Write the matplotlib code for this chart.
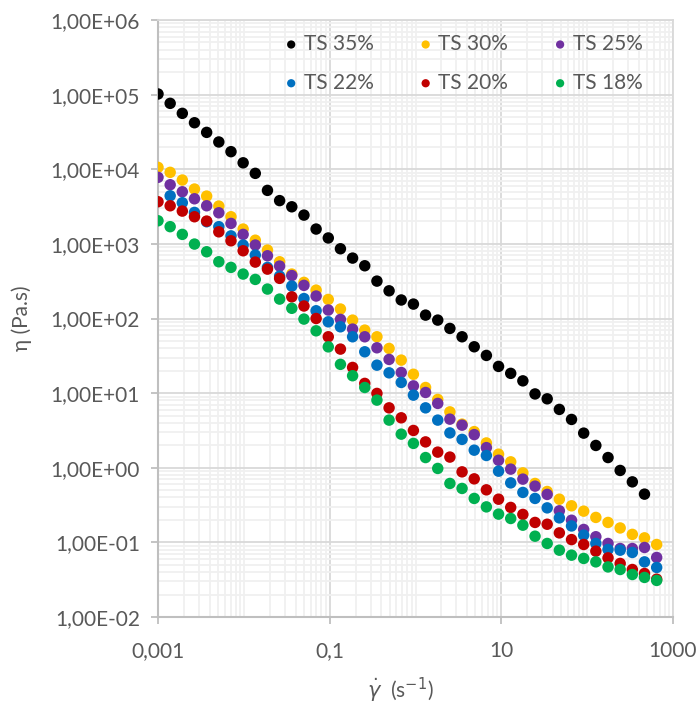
import matplotlib
matplotlib.use('Agg')
import matplotlib.pyplot as plt
from matplotlib.ticker import FixedLocator, FuncFormatter, LogLocator, NullFormatter

plt.rcParams['font.family'] = ['Lato', 'DejaVu Sans']
plt.rcParams['mathtext.fontset'] = 'dejavusans'

# shear rates of the log sweep (s-1)
shear_rate = [0.001, 0.001386, 0.00192, 0.002661, 0.003688, 0.005111, 0.007084,
              0.009816, 0.0136, 0.01885, 0.02612, 0.0362, 0.05017, 0.06953,
              0.09634, 0.1335, 0.185, 0.2564, 0.3553, 0.4924, 0.6823, 0.9456,
              1.31, 1.816, 2.516, 3.487, 4.832, 6.697, 9.281, 12.86, 17.82,
              24.7, 34.22, 47.43, 65.73, 91.09, 126.2, 175.0, 242.4, 336.0,
              465.6, 645.2]

# viscosity (Pa.s) per total solids content
ts35 = [1.02e5, 7.64e4, 5.61e4, 4.20e4, 3.12e4, 2.32e4, 1.72e4, 1.22e4, 8.81e3,
        5.21e3, 3.80e3, 3.14e3, 2.43e3, 1.58e3, 1.20e3, 860, 645, 509, 317, 235,
        177, 156, 111, 95.2, 73.6, 56.9, 41.8, 32.0, 22.8, 18.4, 14.6, 9.75,
        8.39, 6.05, 4.44, 2.91, 1.99, 1.37, 0.92, 0.647, 0.443]
ts30 = [1.06e4, 9.09e3, 7.17e3, 5.43e3, 4.37e3, 3.21e3, 2.31e3, 1.58e3, 1.12e3,
        826, 576, 394, 305, 240, 180, 134, 95.2, 69.9, 56.9, 39.7, 27.7, 17.9,
        11.9, 8.23, 5.61, 3.84, 3.05, 2.15, 1.52, 1.20, 0.854, 0.616, 0.481,
        0.379, 0.309, 0.262, 0.216, 0.185, 0.156, 0.128, 0.115, 0.0937]
ts25 = [7.79e3, 6.20e3, 4.99e3, 4.02e3, 3.24e3, 2.61e3, 1.88e3, 1.34e3, 964,
        693, 504, 376, 278, 200, 130, 97.3, 72.1, 56.9, 40.5, 28.3, 18.9, 12.5,
        10.2, 7.28, 4.48, 3.72, 2.78, 1.86, 1.26, 0.958, 0.704, 0.567, 0.439,
        0.265, 0.198, 0.149, 0.119, 0.0967, 0.0828, 0.0828, 0.0854, 0.0628]
ts22 = [4.41e3, 3.56e3, 2.64e3, 1.98e3, 1.70e3, 1.28e3, 964, 708, 484, 370,
        272, 185, 127, 90.3, 77.4, 56.9, 35.8, 23.7, 18.7, 13.9, 9.40, 6.35,
        4.35, 2.93, 2.40, 1.72, 1.46, 0.900, 0.627, 0.467, 0.388, 0.290, 0.213,
        0.166, 0.125, 0.0967, 0.0803, 0.0786, 0.0732, 0.0548, 0.0461]
ts20 = [3.67e3, 3.24e3, 2.75e3, 2.31e3, 2.02e3, 1.45e3, 1.10e3, 808, 570, 459,
        345, 195, 147, 100, 56.9, 38.9, 22.1, 13.5, 9.91, 6.35, 4.67, 3.16,
        2.22, 1.62, 1.39, 0.881, 0.710, 0.506, 0.379, 0.294, 0.237, 0.185,
        0.175, 0.134, 0.109, 0.0937, 0.0762, 0.0620, 0.0522, 0.0433, 0.0383,
        0.0321]
ts18 = [2.04e3, 1.70e3, 1.34e3, 994, 784, 576, 484, 394, 334, 248, 182, 137,
        98.2, 68.4, 41.7, 24.3, 17.1, 11.9, 8.06, 4.35, 2.82, 2.12, 1.37, 0.979,
        0.616, 0.528, 0.388, 0.299, 0.239, 0.209, 0.170, 0.121, 0.0967, 0.0786,
        0.0674, 0.0609, 0.0548, 0.0469, 0.0433, 0.0371, 0.0339, 0.0309]

series = [
    ('TS 35%', shear_rate[:len(ts35)], ts35, '#000000'),
    ('TS 30%', shear_rate, ts30, '#FFC000'),
    ('TS 25%', shear_rate, ts25, '#7030A0'),
    ('TS 22%', shear_rate[1:], ts22, '#0070C0'),
    ('TS 20%', shear_rate, ts20, '#C00000'),
    ('TS 18%', shear_rate, ts18, '#00B050'),
]

text_col = '#595959'

fig = plt.figure(figsize=(6.99, 7.04), dpi=100)
ax = fig.add_axes([158 / 699, 1 - 617 / 704, 515 / 699, 597 / 704])

handles = {}
for i, (name, x, y, col) in enumerate(series):
    handles[name] = ax.scatter(x, y, s=68, color=col, edgecolors='none',
                               zorder=3 + i, label=name)

ax.set_xscale('log')
ax.set_yscale('log')
ax.set_xlim(0.001, 1000)
ax.set_ylim(0.01, 1e6)

ax.xaxis.set_major_locator(FixedLocator([0.001, 0.1, 10, 1000]))
ax.xaxis.set_major_formatter(FuncFormatter(
    lambda v, p: {0.001: '0,001', 0.1: '0,1', 10: '10', 1000: '1000'}.get(v, '')))
ax.xaxis.set_minor_locator(LogLocator(base=10, subs=range(1, 10), numticks=50))
ax.xaxis.set_minor_formatter(NullFormatter())

ax.yaxis.set_major_locator(LogLocator(base=10, numticks=20))
ax.yaxis.set_major_formatter(FuncFormatter(lambda v, p: f'{v:.2E}'.replace('.', ',')))
ax.yaxis.set_minor_locator(LogLocator(base=10, subs=range(2, 10), numticks=50))
ax.yaxis.set_minor_formatter(NullFormatter())

ax.grid(which='major', color='#d9d9d9', lw=1.3, zorder=1)
ax.grid(which='minor', color='#f0f0f0', lw=1.3, zorder=0)
ax.set_axisbelow(True)

for s in ['top', 'right']:
    ax.spines[s].set_color('#d9d9d9')
    ax.spines[s].set_linewidth(1.3)
for s in ['left', 'bottom']:
    ax.spines[s].set_color('#bfbfbf')
    ax.spines[s].set_linewidth(1.5)

ax.tick_params(which='major', length=5, width=1.3, color='#bfbfbf',
               labelcolor=text_col, labelsize=15)
ax.tick_params(axis='y', which='major', pad=8)
ax.tick_params(axis='x', which='major', pad=12)
ax.tick_params(which='minor', length=0)

order = ['TS 35%', 'TS 22%', 'TS 30%', 'TS 20%', 'TS 25%', 'TS 18%']
leg = ax.legend([handles[n] for n in order], order, ncol=3, frameon=False,
                loc='upper left', bbox_to_anchor=(0.202, 1.008),
                fontsize=15, markerscale=0.72, handletextpad=0.1,
                columnspacing=2.0, labelspacing=0.9, handlelength=1.0)
for t in leg.get_texts():
    t.set_color(text_col)

fig.text(22 / 699, 1 - 318 / 704, 'η (Pa.s)', rotation=90, ha='center',
         va='center', fontsize=15, color=text_col)
fig.text(400 / 699, 1 - 690 / 704, r'$\dot{\gamma}$  (s$^{-1}$)', ha='center',
         va='center', fontsize=15, color=text_col)

fig.savefig('out.png', dpi=100)
